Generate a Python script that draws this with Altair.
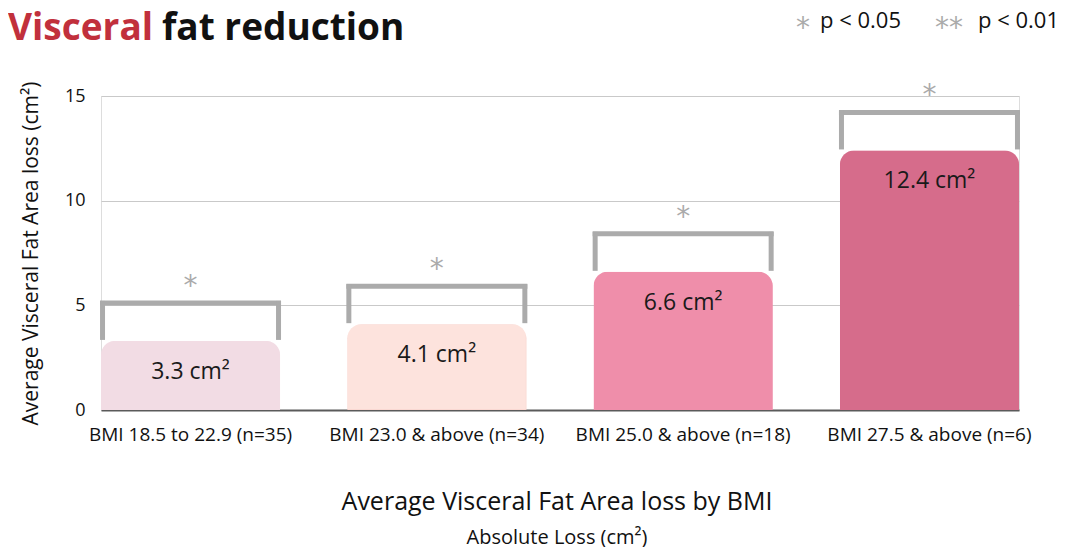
import altair as alt
import pandas as pd

categories = ["BMI 18.5 to 22.9 (n=35)", "BMI 23.0 & above (n=34)",
              "BMI 25.0 & above (n=18)", "BMI 27.5 & above (n=6)"]
values = [3.3, 4.1, 6.6, 12.4]
value_labels = ["3.3 cm²", "4.1 cm²", "6.6 cm²", "12.4 cm²"]
significance = ["*", "*", "*", "*"]
bar_colors = ["#f2dce4", "#fde3dd", "#ef8eaa", "#d66c8b"]
bar_strokes = ["#f2dce4", "#f6cdc6", "#ef8eaa", "#d66c8b"]
y_ticks = [0, 5, 10, 15]

FONT = "Open Sans"
STAR_FONT = "DejaVu Sans"
GRAY = "#ababab"

df = pd.DataFrame({
    "cat": categories,
    "value": values,
    "label": value_labels,
    "sig": significance,
    "color": bar_colors,
    "stroke": bar_strokes,
})

x_enc = alt.X("cat:N", sort=categories,
              scale=alt.Scale(paddingInner=0.273, paddingOuter=0),
              axis=alt.Axis(title=None, labelAngle=0, labelFontSize=19, labelFont=FONT,
                            labelColor="#111", labelPadding=15, labelLimit=0, ticks=False,
                            domain=True, domainColor="#5a5a5a", domainWidth=2, grid=False))
y_scale = alt.Scale(domain=[0, 15], nice=False)

base = alt.Chart(df)

bars = base.mark_bar(cornerRadiusTopLeft=14, cornerRadiusTopRight=14, strokeWidth=1).encode(
    x=x_enc,
    y=alt.Y("value:Q", scale=y_scale,
            axis=alt.Axis(values=y_ticks, title="Average Visceral Fat Area loss (cm²)",
                          titleFont=FONT, titleFontSize=21, titleFontWeight="normal",
                          titleColor="#111", titlePadding=23,
                          labelFont=FONT, labelFontSize=18, labelColor="#111",
                          labelPadding=16, ticks=False, domain=False,
                          grid=True, gridColor="#c9c9c9", gridWidth=1.2)),
    fill=alt.Fill("color:N", scale=None),
    stroke=alt.Stroke("stroke:N", scale=None),
)

value_text = base.mark_text(font=FONT, fontSize=23, color="#1a1a1a", dy=31, baseline="middle").encode(
    x=alt.X("cat:N", sort=categories), y="value:Q", text="label:N")

bracket_top = base.mark_tick(orient="horizontal", size=181, thickness=5, color=GRAY,
                             yOffset=-38, opacity=1).encode(
    x=alt.X("cat:N", sort=categories), y="value:Q")

leg_left = base.mark_rule(strokeWidth=5, color=GRAY, xOffset=-88, yOffset=-40, y2Offset=-1).encode(
    x=alt.X("cat:N", sort=categories), y="value:Q", y2="value:Q")
leg_right = base.mark_rule(strokeWidth=5, color=GRAY, xOffset=88, yOffset=-40, y2Offset=-1).encode(
    x=alt.X("cat:N", sort=categories), y="value:Q", y2="value:Q")

stars = base.mark_text(font=STAR_FONT, fontSize=28, color=GRAY, dy=-54, baseline="middle").encode(
    x=alt.X("cat:N", sort=categories), y="value:Q", text="sig:N")

def label(txt, x, y, size, color="#111", weight="normal", align="left", font=FONT,
          baseline="middle"):
    return alt.Chart(pd.DataFrame({"t": [txt]})).mark_text(
        font=font, fontSize=size, color=color, fontWeight=weight, align=align, baseline=baseline
    ).encode(x=alt.value(x), y=alt.value(y), text="t:N")

annotations = [
    label("Visceral", -93, -56, 37, color="#c1303c", weight="bold", baseline="alphabetic"),
    label("fat reduction", 61, -56, 37, color="#111", weight="bold", baseline="alphabetic"),
    label("*", 695, -67, 28, color=GRAY, font=STAR_FONT),
    label("p < 0.05", 719, -75, 22),
    label("**", 834, -67, 28, color=GRAY, font=STAR_FONT),
    label("p < 0.01", 877, -75, 22),
    label("Average Visceral Fat Area loss by BMI", 456, 406, 25, align="center"),
    label("Absolute Loss (cm²)", 456, 442, 20, align="center"),
]

chart = alt.layer(bars, value_text, bracket_top, leg_left, leg_right, stars, *annotations).properties(
    width=918, height=314,
    autosize=alt.AutoSizeParams(type="none"),
    padding={"left": 93, "top": 88, "right": 52, "bottom": 137},
).configure_view(stroke=None).configure(background="white")

chart.save("out.html", embed_options={"renderer": "svg", "actions": False})
